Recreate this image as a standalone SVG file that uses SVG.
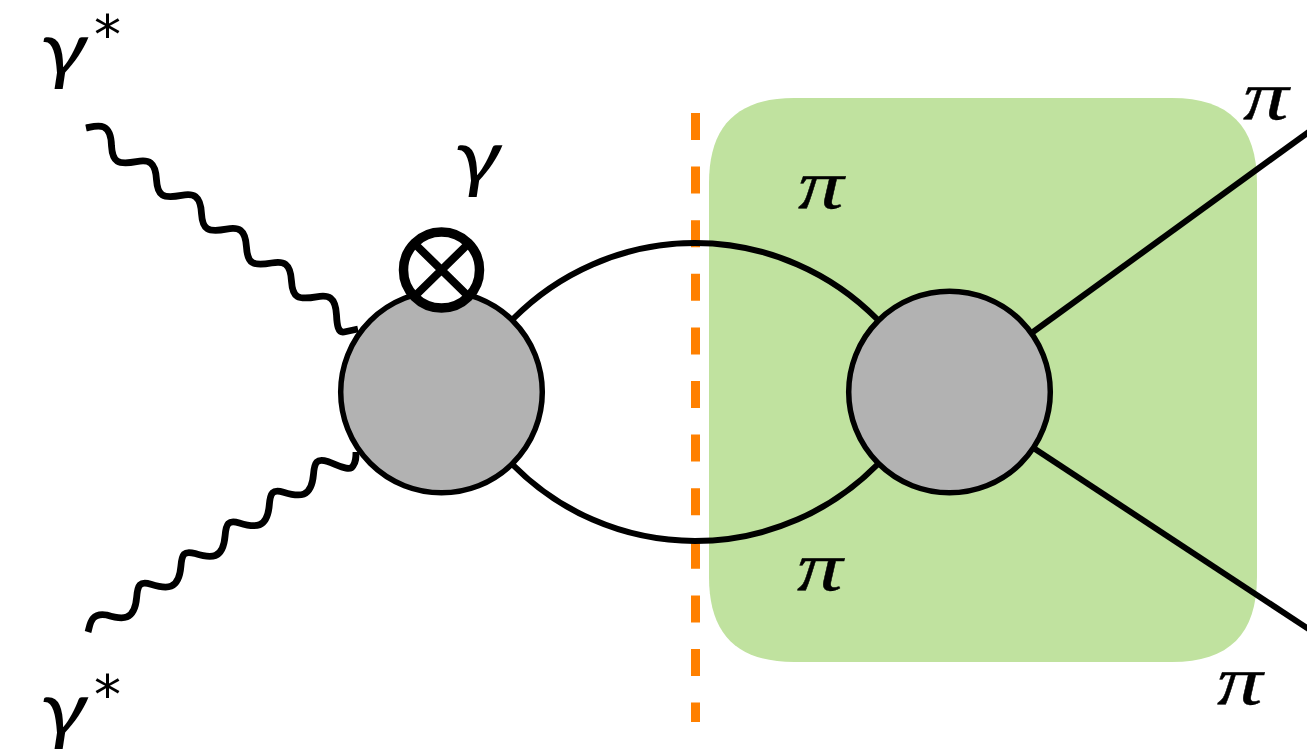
<svg xmlns="http://www.w3.org/2000/svg" width="1307" height="753" viewBox="0 0 1307 753">
<style>
.wave{fill:none;stroke:#000;stroke-width:6.800;stroke-linejoin:round}
.ln{fill:none;stroke:#000;stroke-width:6}
.blob{fill:#b2b2b2;stroke:#000;stroke-width:5.500}
.gm{font-family:Lato,"Liberation Sans",sans-serif;font-style:italic;font-size:76px;fill:#000}
.p{font-family:"Liberation Serif","Times New Roman",serif;font-style:italic;font-size:70px;fill:#000;stroke:#000;stroke-width:.4}
.s{font-family:"DejaVu Sans",sans-serif;font-size:54px;fill:#000}
</style>
<rect width="1307" height="753" fill="#fff"/>
<path id="region" d="M794 98H1172C1229 98 1257 126 1257 183V577C1257 634 1229 662 1172 662H794C737 662 709 634 709 577V183C709 126 737 98 794 98Z" fill="#c0e29f"/>
<path id="cut" d="M695.500 113V722" fill="none" stroke="#ff8000" stroke-width="9" stroke-dasharray="27 26.600"/>
<g id="connectors">
<path class="wave" d="M86 128C96 126 111 120 111.500 146c1 16 6 19 25 15.600c12 -2.400 19 0 20 18.200c1 16 6 19 25 15.600c12 -2.400 19 0 20 18.200c1 16 6 19 25 15.600c12 -2.400 19 0 20 18.200c1 16 6 19 25 15.600c12 -2.400 19 0 20 18.200c1 16 6 19 25 15.600c12 -2.400 19 0 20 18.200C337 325 338 333 344 332L358 329"/>
<path class="wave" d="M88 632C90 626 90 612 106.700 615c16 5 28 6 30 -18c1 -12 3 -16 14.200 -12.700c16 5 28 6 30 -18c1 -12 3 -16 14.200 -12.700c16 5 28 6 30 -18c1 -12 3 -16 14.200 -12.700c16 5 28 6 30 -18c1 -12 3 -16 14.200 -12.700c16 5 28 6 30 -18c1 -12 3 -16 14.200 -12.700C338 465 350 472 353 466C356 462 356 458 356 452"/>
<path class="ln" d="M513 319A256 256 0 0 1 877 319"/>
<path class="ln" d="M513 465A256 256 0 0 0 877 465"/>
<path class="ln" d="M1033 332L1310 131"/>
<path class="ln" d="M1035 449L1310 630"/>
</g>
<g id="blob-left"><circle class="blob" cx="441.500" cy="392" r="100.800"/></g>
<g id="blob-right"><circle class="blob" cx="949.500" cy="392" r="100.800"/></g>
<g id="vertex">
<circle cx="441.500" cy="270" r="38" fill="#fff" stroke="#000" stroke-width="9.500"/>
<path d="M415 244L468 296M468 244L415 296" fill="none" stroke="#000" stroke-width="8"/>
</g>
<g id="label-top"><text class="gm" transform="translate(40 76) scale(1.240 1)">γ</text><text class="s" x="94" y="53">*</text></g>
<g id="label-bottom"><text class="gm" transform="translate(40 736) scale(1.240 1)">γ</text><text class="s" x="94" y="713">*</text></g>
<g id="label-gamma"><text class="gm" transform="translate(454 184) scale(1.240 1)">γ</text></g>
<g id="label-pi1"><text class="p" transform="translate(798 208) scale(1.300 1)">π</text></g>
<g id="label-pi2"><text class="p" transform="translate(797 590) scale(1.300 1)">π</text></g>
<g id="label-pi3"><text class="p" transform="translate(1243 119) scale(1.300 1)">π</text></g>
<g id="label-pi4"><text class="p" transform="translate(1217 704) scale(1.300 1)">π</text></g>
</svg>
